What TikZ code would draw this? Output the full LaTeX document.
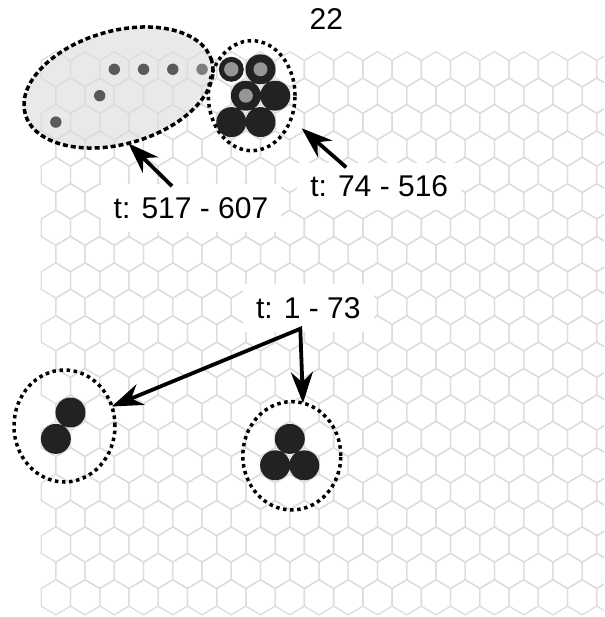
\documentclass[tikz,border=0pt]{standalone}
\usepackage{fontspec}
\setmainfont{Liberation Sans}
\usetikzlibrary{arrows.meta,shapes.geometric}
\definecolor{gridgrey}{RGB}{220,220,220}
\definecolor{fillgrey}{RGB}{233,233,233}
\definecolor{dotgrey}{RGB}{90,90,90}
\definecolor{lightdot}{RGB}{125,125,125}
\definecolor{ink}{RGB}{34,34,34}
\definecolor{core}{RGB}{150,150,150}
\tikzset{
  hexline/.style={draw=gridgrey, line width=1.3pt, line join=round},
  cluster/.style={ellipse, draw=black, line width=3.5pt, dash pattern=on 3.5pt off 3.6pt, inner sep=0pt, outer sep=0pt},
  tlabel/.style={fill=white, inner sep=13pt, font=\fontsize{30}{36}\selectfont, anchor=base},
  tip/.tip={Stealth[length=31pt,width=22pt,inset=10pt]},
  arr/.style={line width=3.8pt, line join=miter, -tip},
  arrboth/.style={line width=3.8pt, line join=miter, tip-tip},
}
\begin{document}
\begin{tikzpicture}[x=1pt,y=-1pt]
\useasboundingbox (0,0) rectangle (604,617);
% grey fill of the left cluster
\fill[fillgrey, rotate around={16:(118.5,87.5)}] (118.5,87.5) ellipse [x radius=97, y radius=56.5];
% hexagonal grid
\begin{scope}
\clip (0,0) rectangle (604,617);
\foreach \n in {0,...,20}{
  \pgfmathsetmacro\cy{69.3+26.4*\n}
  \pgfmathsetmacro\off{mod(\n,2)*14.62}
  \foreach \k in {0,...,19}{
    \pgfmathsetmacro\cx{55.85+\off+29.24*\k}
    \draw[hexline] (\cx,\cy) +(0,-17.6) -- +(14.62,-8.8) -- +(14.62,8.8) -- +(0,17.6) -- +(-14.62,8.8) -- +(-14.62,-8.8) -- cycle;
  }
}
\end{scope}
% small dots of the left cluster
\fill[dotgrey] (114.3,69.3) circle (5.7) (143.6,69.3) circle (5.7) (172.8,69.3) circle (5.7)
  (99.7,95.7) circle (5.7) (55.85,122.1) circle (5.7);
\fill[lightdot] (202.1,69.3) circle (5.7);
% cluster outlines
\node[cluster, dash pattern=on 5pt off 3pt, minimum width=194pt, minimum height=113pt, rotate=16] (c1) at (118.5,87.5) {};
\node[cluster, minimum width=86.7pt, minimum height=110pt] (c2) at (251.7,95.7) {};
\node[cluster, minimum width=101pt, minimum height=112pt] (c3) at (64.5,426) {};
\node[cluster, minimum width=98pt, minimum height=108.3pt] (c4) at (291.8,455.8) {};
% particles of the upper right cluster
\fill[ink] (231.3,69.3) circle (12.5);
\fill[core] (231.3,69.3) circle (7.2);
\fill[ink] (260.5,69.3) circle (15) (245.9,95.7) circle (15) (275.2,95.7) circle (15)
  (231.3,122.1) circle (15) (260.5,122.1) circle (15);
\fill[core] (260.5,69.3) circle (7) (245.9,95.7) circle (7);
% lower clusters
\fill[ink] (70.47,412.5) circle (15) (55.85,438.9) circle (15);
\fill[ink] (289.8,438.9) circle (15) (275.1,465.3) circle (15) (304.3,465.3) circle (15);
% labels
\node[anchor=base, font=\fontsize{30}{36}\selectfont] (title) at (326.3,30) {22};
\node[tlabel] (lab1) at (191,218.3) {t: 517 - 607};
\node[tlabel] (lab2) at (379.2,197) {t: 74 - 516};
\node[tlabel] (lab3) at (308.3,318.3) {t: 1 - 73};
% connectors
\coordinate (t1) at ([xshift=-19pt,yshift=-2pt]lab1.north);
\coordinate (t2) at ([xshift=-33pt,yshift=-4.5pt]lab2.north);
\coordinate (tip2) at ([xshift=11.7pt,yshift=-6.8pt]c2.-34);
\coordinate (corner) at ([xshift=-8pt,yshift=3pt]lab3.south);
\draw[arr] (t1) -- (c1.-96);
\draw[arr] (t2) -- (tip2);
\draw[arrboth] (c3) -- (corner) -- (c4.78);
\end{tikzpicture}
\end{document}
